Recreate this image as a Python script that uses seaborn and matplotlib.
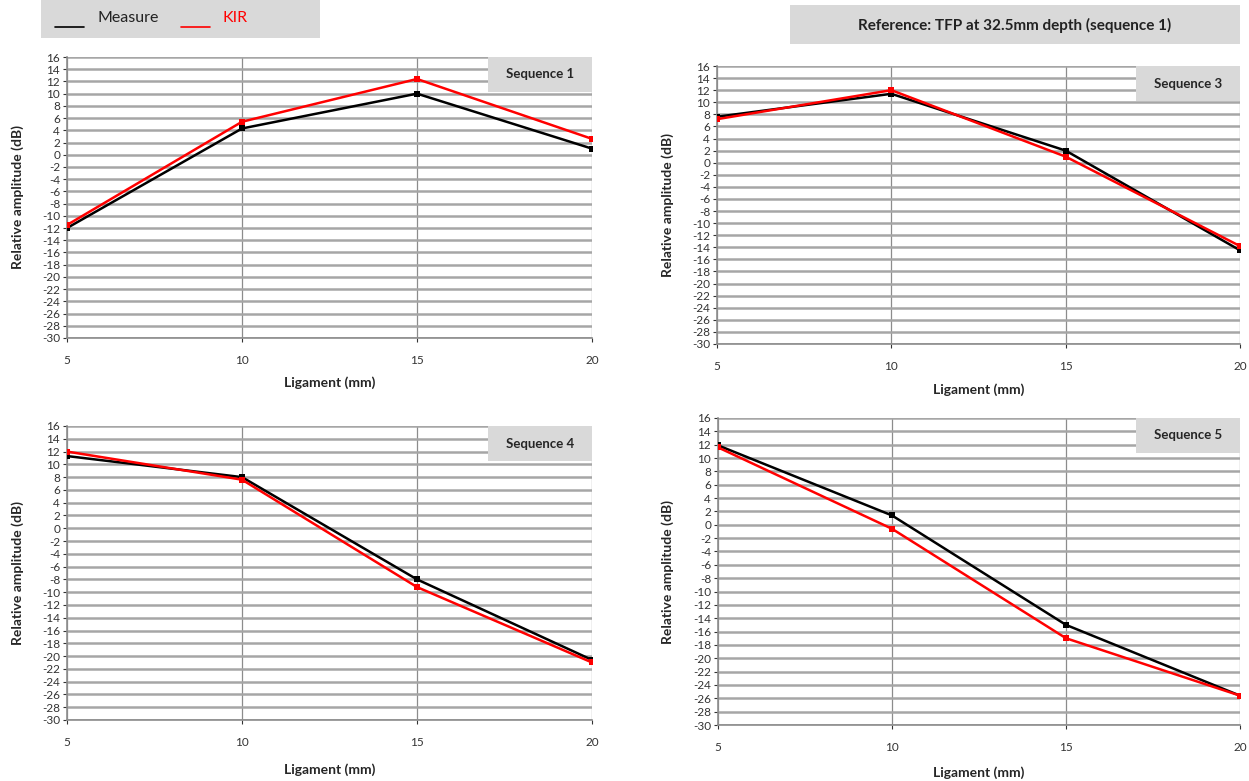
import numpy as np
import pandas as pd
import seaborn as sns
import matplotlib.pyplot as plt
from matplotlib.patches import Rectangle
from matplotlib.lines import Line2D

sns.set_style("white")
plt.rcParams['font.family'] = ['Lato', 'DejaVu Sans']
plt.rcParams['axes.unicode_minus'] = False

# data
ligament = [5, 10, 15, 20]
seq_names = ['Sequence 1', 'Sequence 3', 'Sequence 4', 'Sequence 5']
measure_1 = [-12.0, 4.3, 10.0, 1.0]
kir_1 = [-11.5, 5.4, 12.4, 2.6]
measure_3 = [7.6, 11.4, 2.0, -14.5]
kir_3 = [7.2, 12.0, 1.0, -13.8]
measure_4 = [11.3, 8.0, -8.0, -20.6]
kir_4 = [12.0, 7.6, -9.2, -21.0]
measure_5 = [11.9, 1.4, -15.0, -25.6]
kir_5 = [11.6, -0.6, -17.0, -25.6]

measures = [measure_1, measure_3, measure_4, measure_5]
kirs = [kir_1, kir_3, kir_4, kir_5]

W, H = 1249, 781
fig = plt.figure(figsize=(12.49, 7.81), dpi=100)

# axes boxes in pixels: left, right, top, bottom
boxes = [(67, 592, 57, 338), (717, 1240, 66, 344),
         (67, 592, 426, 720), (718, 1240, 418, 725)]
xlab_y = [383, 390, 770, 773]
ylab_x = [18, 668, 18, 668]

for i, (l, r, t, b) in enumerate(boxes):
    ax = fig.add_axes([l / W, 1 - b / H, (r - l) / W, (b - t) / H])
    df = pd.DataFrame({
        'x': ligament * 2,
        'y': measures[i] + kirs[i],
        'series': ['Measure'] * 4 + ['KIR'] * 4,
    })
    sns.lineplot(data=df, x='x', y='y', hue='series', style='series',
                 palette={'Measure': 'black', 'KIR': '#ff0000'},
                 markers={'Measure': 's', 'KIR': 's'}, dashes=False,
                 markersize=5, markeredgewidth=0, linewidth=1.8,
                 legend=False, ax=ax, zorder=3)
    ax.set_xlim(5, 20)
    ax.set_ylim(-30, 16)
    ax.set_yticks(np.arange(-30, 17, 2))
    ax.set_xticks([5, 10, 15, 20])
    ax.grid(axis='y', color='#a6a6a6', linewidth=1.8)
    ax.grid(axis='x', color='#8c8c8c', linewidth=0.9)
    ax.set_axisbelow(True)
    for s in ['top', 'right']:
        ax.spines[s].set_visible(False)
    for s in ['left', 'bottom']:
        ax.spines[s].set_color('#8c8c8c')
        ax.spines[s].set_linewidth(1.2)
    ax.tick_params(axis='both', labelsize=8.5, colors='#333333', length=3,
                   width=0.8, direction='out', left=True, bottom=True, pad=2)
    ax.tick_params(axis='x', pad=9)
    ax.set_xlabel('')
    ax.set_ylabel('')
    fig.text((l + r) / 2 / W, 1 - xlab_y[i] / H, 'Ligament (mm)',
             ha='center', va='center', fontsize=10, fontweight='bold')
    fig.text(ylab_x[i] / W, 1 - (t + b) / 2 / H, 'Relative amplitude (dB)',
             ha='center', va='center', rotation=90, fontsize=10,
             fontweight='bold')
    # sequence label box
    bw, bh = 104, 35
    ax.add_artist(Rectangle((1 - bw / (r - l), 1 - bh / (b - t)),
                            bw / (r - l), bh / (b - t), transform=ax.transAxes,
                            facecolor='#d9d9d9', edgecolor='none', zorder=4,
                            clip_on=False))
    ax.text(1 - bw / 2 / (r - l), 1 - bh / 2 / (b - t), seq_names[i],
            transform=ax.transAxes, ha='center', va='center', fontsize=9.5,
            fontweight='bold', zorder=5)

# legend box top-left
fig.patches.append(Rectangle((41 / W, 1 - 38 / H), 279 / W, 38 / H,
                             transform=fig.transFigure, facecolor='#d9d9d9',
                             edgecolor='none', zorder=0))
fig.lines.append(Line2D([55 / W, 84 / W], [1 - 27 / H, 1 - 27 / H],
                        transform=fig.transFigure, color='black', lw=1.2))
fig.text(97 / W, 1 - 18 / H, 'Measure', fontsize=11.5, color='#222222',
         va='center')
fig.lines.append(Line2D([181 / W, 210 / W], [1 - 27 / H, 1 - 27 / H],
                        transform=fig.transFigure, color='#ff0000', lw=1.2))
fig.text(223 / W, 1 - 18 / H, 'KIR', fontsize=11.5, color='#ff0000',
         va='center')

# reference title box top-right
fig.patches.append(Rectangle((790 / W, 1 - 44 / H), 450 / W, 39 / H,
                             transform=fig.transFigure, facecolor='#d9d9d9',
                             edgecolor='none', zorder=0))
fig.text(1015 / W, 1 - 25 / H, 'Reference: TFP at 32.5mm depth (sequence 1)',
         ha='center', va='center', fontsize=11, fontweight='bold',
         color='#222222')

fig.savefig('out.png', dpi=100, facecolor='white')
